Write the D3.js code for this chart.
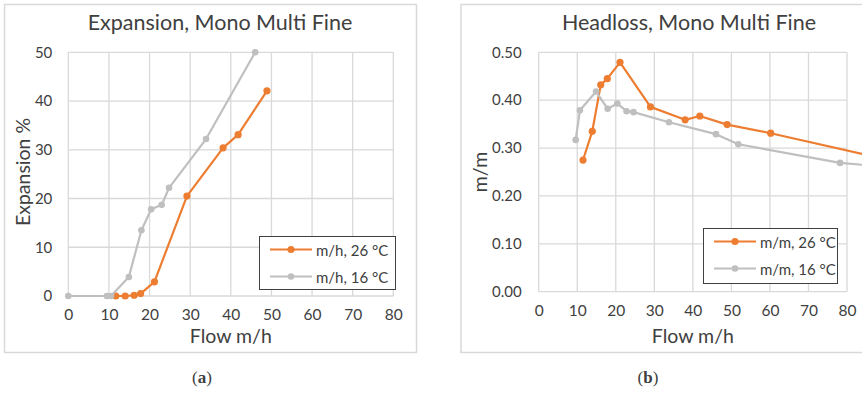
<!DOCTYPE html>
<html>
<head>
<meta charset="utf-8">
<script src="https://cdn.jsdelivr.net/npm/d3@7/dist/d3.min.js"></script>
<style>
  html, body { margin: 0; padding: 0; background: #fff; }
  svg { display: block; }
  text { font-family: Lato, "Open Sans", sans-serif; fill: #404040; }
</style>
</head>
<body>
<svg id="chart" width="862" height="393"></svg>
<script>
// Panel (a): bed expansion vs flow
const expFlow26 = [11.7, 14.0, 16.2, 17.8, 21.2, 29.2, 38.1, 41.8, 48.9];
const expVal26  = [0, 0, 0.15, 0.5, 2.9, 20.5, 30.4, 33.1, 42.1];
const expFlow16 = [0, 9.5, 10.5, 14.9, 18.0, 20.4, 23.0, 24.8, 33.9, 46.0];
const expVal16  = [0, 0, 0, 3.9, 13.5, 17.8, 18.7, 22.2, 32.2, 50.0];

// Panel (b): headloss vs flow
const hlFlow26 = [11.5, 13.9, 16.1, 17.8, 21.1, 29.0, 38.0, 41.8, 48.9, 60.2, 90];
const hlVal26  = [0.275, 0.335, 0.432, 0.445, 0.479, 0.386, 0.359, 0.367, 0.349, 0.331, 0.277];
const hlFlow16 = [9.6, 10.7, 14.9, 17.9, 20.4, 22.8, 24.6, 33.8, 46.0, 51.8, 78.2, 90];
const hlVal16  = [0.317, 0.379, 0.418, 0.382, 0.393, 0.377, 0.375, 0.354, 0.329, 0.308, 0.269, 0.261];

const xTicks = [0, 10, 20, 30, 40, 50, 60, 70, 80];
const expTicks = [0, 10, 20, 30, 40, 50];
const hlTicks = [0, 0.1, 0.2, 0.3, 0.4, 0.5];

const titles = ["Expansion, Mono Multi Fine", "Headloss, Mono Multi Fine"];
const yTitles = ["Expansion %", "m/m"];
const xTitle = "Flow m/h";
const legendExp = ["m/h, 26 °C", "m/h, 16 °C"];
const legendHl = ["m/m, 26 °C", "m/m, 16 °C"];
const captions = ["a", "b"];

const ORANGE = "#ED7D31";
const GREY = "#BFBFBF";
const GRID = "#D9D9D9";

const svg = d3.select("#chart");

function panel(opt) {
  const g = svg.append("g");

  // outer chart frame
  g.append("rect")
    .attr("x", opt.frame[0] + 0.5).attr("y", opt.frame[1] + 0.5)
    .attr("width", opt.frame[2]).attr("height", opt.frame[3])
    .attr("fill", "#fff").attr("stroke", GRID).attr("stroke-width", 1.5);

  const x = d3.scaleLinear().domain([0, 80]).range([opt.plot.x0, opt.plot.x1]);
  const y = d3.scaleLinear().domain(opt.yDomain).range([opt.plot.y1, opt.plot.y0]);

  // gridlines
  const grid = g.append("g");
  grid.selectAll("line.v").data(xTicks).join("line")
    .attr("x1", d => x(d)).attr("x2", d => x(d))
    .attr("y1", y(opt.yDomain[0])).attr("y2", y(opt.yDomain[1]))
    .attr("stroke", GRID).attr("stroke-width", 1.3);
  grid.selectAll("line.h").data(opt.yTicks).join("line")
    .attr("x1", x(0)).attr("x2", x(80))
    .attr("y1", d => y(d)).attr("y2", d => y(d))
    .attr("stroke", GRID).attr("stroke-width", 1.3);

  // axes (labels only; lines come from the grid)
  const xAxis = d3.axisBottom(x).tickValues(xTicks).tickSize(0).tickPadding(opt.xPad);
  const gx = g.append("g").attr("transform", `translate(0,${y(opt.yDomain[0])})`).call(xAxis);
  gx.select(".domain").remove();
  gx.selectAll("text").style("font-size", "15.5px").attr("fill", "#404040")
    .style("font-family", "Lato, sans-serif");

  const yAxis = d3.axisLeft(y).tickValues(opt.yTicks).tickSize(0).tickPadding(opt.yPad)
    .tickFormat(opt.yFormat);
  const gy = g.append("g").attr("transform", `translate(${x(0)},0)`).call(yAxis);
  gy.select(".domain").remove();
  gy.selectAll("text").style("font-size", "15px").attr("fill", "#404040")
    .style("font-family", "Lato, sans-serif");

  // series
  const line = d3.line().x(d => x(d[0])).y(d => y(d[1]));
  const clipId = "clip" + opt.id;
  g.append("clipPath").attr("id", clipId).append("rect")
    .attr("x", x(0) - 6).attr("y", 0)
    .attr("width", opt.clipRight - x(0) + 6).attr("height", 393);
  const plotG = g.append("g").attr("clip-path", `url(#${clipId})`);

  opt.series.forEach(s => {
    const pts = s.xs.map((v, i) => [v, s.ys[i]]);
    plotG.append("path").datum(pts)
      .attr("d", line).attr("fill", "none")
      .attr("stroke", s.color).attr("stroke-width", 2.2)
      .attr("stroke-linejoin", "round");
    plotG.selectAll(null).data(pts).join("circle")
      .attr("cx", d => x(d[0])).attr("cy", d => y(d[1]))
      .attr("r", s.r).attr("fill", s.color);
  });

  // title
  g.append("text").attr("x", opt.titleX).attr("y", 30)
    .attr("text-anchor", "middle").style("font-size", "21.5px")
    .text(opt.title);

  // axis titles
  g.append("text").attr("x", x(40)).attr("y", 343)
    .attr("text-anchor", "middle").style("font-size", "19.5px")
    .text(xTitle);
  g.append("text")
    .attr("transform", `translate(${opt.yTitleX},${opt.yTitleY}) rotate(-90)`)
    .attr("text-anchor", "middle").attr("dominant-baseline", "central")
    .style("font-size", "19.5px")
    .text(opt.yTitle);

  // legend
  const L = opt.legend;
  g.append("rect").attr("x", L.x + 0.5).attr("y", L.y + 0.5)
    .attr("width", L.w).attr("height", L.h)
    .attr("fill", "#fff").attr("stroke", "#404040").attr("stroke-width", 1);
  opt.series.forEach((s, i) => {
    const ly = L.y + 13.5 + i * 27;
    g.append("line").attr("x1", L.x + 11).attr("x2", L.x + 53)
      .attr("y1", ly).attr("y2", ly)
      .attr("stroke", s.color).attr("stroke-width", 2.2);
    g.append("circle").attr("cx", L.x + 32).attr("cy", ly).attr("r", s.r)
      .attr("fill", s.color);
    g.append("text").attr("x", L.x + 57).attr("y", ly)
      .attr("dominant-baseline", "central").style("font-size", "15px")
      .text(L.labels[i]);
  });

  // caption
  const cap = g.append("text").attr("x", opt.capX).attr("y", 383)
    .attr("text-anchor", "middle")
    .style("font-family", "'Liberation Serif', 'DejaVu Serif', serif")
    .style("font-size", "17px").attr("fill", "#222");
  cap.append("tspan").text("(");
  cap.append("tspan").style("font-weight", "bold").text(opt.caption);
  cap.append("tspan").text(")");
}

panel({
  id: "a",
  frame: [4, 4, 412, 348],
  plot: { x0: 68.3, x1: 393.3, y0: 52.3, y1: 296 },
  yDomain: [0, 50], yTicks: expTicks, yFormat: d3.format("d"),
  xPad: 13, yPad: 16,
  clipRight: 420,
  series: [
    { xs: expFlow26, ys: expVal26, color: ORANGE, r: 3.6 },
    { xs: expFlow16, ys: expVal16, color: GREY, r: 3.3 }
  ],
  title: titles[0], titleX: 220,
  yTitle: yTitles[0], yTitleX: 22.5, yTitleY: 172,
  legend: { x: 259, y: 236, w: 136, h: 53, labels: legendExp },
  caption: captions[0], capX: 202
});

panel({
  id: "b",
  frame: [460.5, 4, 420, 348],
  plot: { x0: 538.7, x1: 847, y0: 52.3, y1: 291.7 },
  yDomain: [0, 0.5], yTicks: hlTicks, yFormat: d3.format(".2f"),
  xPad: 13, yPad: 17,
  clipRight: 870,
  series: [
    { xs: hlFlow26, ys: hlVal26, color: ORANGE, r: 3.6 },
    { xs: hlFlow16, ys: hlVal16, color: GREY, r: 3.3 }
  ],
  title: titles[1], titleX: 689,
  yTitle: yTitles[1], yTitleX: 479, yTitleY: 172,
  legend: { x: 703, y: 228, w: 134, h: 55, labels: legendHl },
  caption: captions[1], capX: 648
});
</script>
</body>
</html>
